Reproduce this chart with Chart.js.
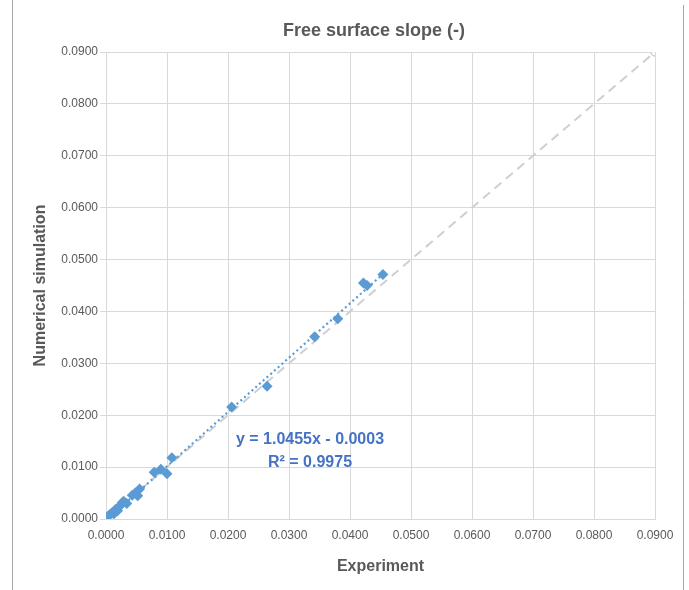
<!DOCTYPE html>
<html>
<head>
<meta charset="utf-8">
<script src="https://cdn.jsdelivr.net/npm/chart.js@4.4.1/dist/chart.umd.min.js"></script>
<style>
  html, body { margin: 0; padding: 0; background: #ffffff; }
  #wrap { width: 689px; height: 590px; }
</style>
</head>
<body>
<div id="wrap"><canvas id="grafico" width="689" height="590"></canvas></div>
<script>
// measured values (experiment vs numerical simulation)
var experiment = [0.0004, 0.0007, 0.0010, 0.0013, 0.0016, 0.0019, 0.0022, 0.0026, 0.0029, 0.0034,
                  0.0043, 0.0048, 0.0052, 0.0055, 0.0079, 0.0090, 0.0100, 0.0108,
                  0.0206, 0.0264, 0.0342, 0.0380, 0.0422, 0.0428, 0.0454];
var simulation = [0.0006, 0.0009, 0.0012, 0.0010, 0.0019, 0.0016, 0.0024, 0.0031, 0.0034, 0.0030,
                  0.0046, 0.0050, 0.0045, 0.0058, 0.0090, 0.0096, 0.0087, 0.0118,
                  0.0216, 0.0256, 0.0351, 0.0386, 0.0455, 0.0450, 0.0471];

// trendline ends and 1:1 line ends
var trendX = [0.0000, 0.0455];
var trendY = [-0.0003, 0.0473];
var idealX = [0.0000, 0.0900];
var idealY = [0.0000, 0.0900];

var tituloGrafico = "Free surface slope (-)";
var tituloX = "Experiment";
var tituloY = "Numerical simulation";
var ecuacion = ["y = 1.0455x - 0.0003", "R² = 0.9975"];

function pares(xs, ys) {
    var out = [];
    for (var i = 0; i < xs.length; i++) out.push({ x: xs[i], y: ys[i] });
    return out;
}

var azul = "#5B9BD5";
var grisTexto = "#595959";
var fuente = "'Liberation Sans', Arial, sans-serif";

var extras = {
    id: "extras",
    beforeDraw: function (chart) {
        var ctx = chart.ctx;
        ctx.save();
        ctx.fillStyle = "#ffffff";
        ctx.fillRect(0, 0, chart.width, chart.height);
        ctx.restore();
    },
    afterDraw: function (chart) {
        var ctx = chart.ctx;
        ctx.save();
        // frame lines
        ctx.strokeStyle = "#A6A6A6";
        ctx.lineWidth = 1;
        ctx.beginPath();
        ctx.moveTo(12.5, 0); ctx.lineTo(12.5, 590);
        ctx.moveTo(683.5, 5); ctx.lineTo(683.5, 590);
        ctx.stroke();
        // title
        ctx.fillStyle = grisTexto;
        ctx.font = "bold 18px " + fuente;
        ctx.textAlign = "center";
        ctx.textBaseline = "middle";
        ctx.fillText(tituloGrafico, 374, 31);
        // trendline label
        ctx.fillStyle = "#4472C4";
        ctx.font = "bold 16px " + fuente;
        ctx.fillText(ecuacion[0], 310, 440);
        ctx.fillText(ecuacion[1], 310, 463);
        ctx.restore();
    }
};

var ctx = document.getElementById("grafico").getContext("2d");
var myChart = new Chart(ctx, {
    type: "scatter",
    data: {
        datasets: [{
            label: "Data",
            data: pares(experiment, simulation),
            pointStyle: "rectRot",
            pointRadius: 5.5,
            pointHoverRadius: 5.5,
            backgroundColor: azul,
            borderColor: azul,
            borderWidth: 0,
            order: 1
        }, {
            label: "Trend",
            type: "line",
            data: pares(trendX, trendY),
            borderColor: azul,
            borderWidth: 2.2,
            borderDash: [2, 3],
            pointRadius: 0,
            fill: false,
            order: 2
        }, {
            label: "1:1",
            type: "line",
            data: pares(idealX, idealY),
            borderColor: "#CFCFCF",
            borderWidth: 2,
            borderDash: [9, 6],
            pointRadius: 4,
            pointBackgroundColor: "#ffffff",
            pointBorderColor: "#CFCFCF",
            pointBorderWidth: 1.5,
            fill: false,
            order: 3
        }]
    },
    options: {
        responsive: false,
        animation: false,
        events: [],
        layout: { padding: { left: 12, right: 34, top: 52, bottom: 0 } },
        plugins: {
            legend: { display: false },
            tooltip: { enabled: false },
            title: { display: false }
        },
        scales: {
            x: {
                type: "linear",
                min: 0,
                max: 0.09,
                afterFit: function (s) { s.height = 71; },
                ticks: {
                    stepSize: 0.01,
                    color: grisTexto,
                    font: { family: fuente, size: 12 },
                    padding: 9,
                    callback: function (v) { return v.toFixed(4); }
                },
                grid: { color: "#D9D9D9", lineWidth: 1, tickLength: 0 },
                border: { color: "#D9D9D9" },
                title: {
                    display: true,
                    text: tituloX,
                    color: grisTexto,
                    font: { family: fuente, size: 16, weight: "bold" },
                    padding: { top: 4, bottom: 14 }
                }
            },
            y: {
                type: "linear",
                min: 0,
                max: 0.09,
                afterFit: function (s) { s.width = 94; },
                ticks: {
                    stepSize: 0.01,
                    color: grisTexto,
                    font: { family: fuente, size: 12 },
                    padding: 2,
                    callback: function (v) { return v.toFixed(4); }
                },
                grid: { color: "#D9D9D9", lineWidth: 1, tickLength: 6 },
                border: { color: "#D9D9D9" },
                title: {
                    display: true,
                    text: tituloY,
                    color: grisTexto,
                    font: { family: fuente, size: 16, weight: "bold" },
                    padding: { top: 19, bottom: 0 }
                }
            }
        }
    },
    plugins: [extras]
});
</script>
</body>
</html>
